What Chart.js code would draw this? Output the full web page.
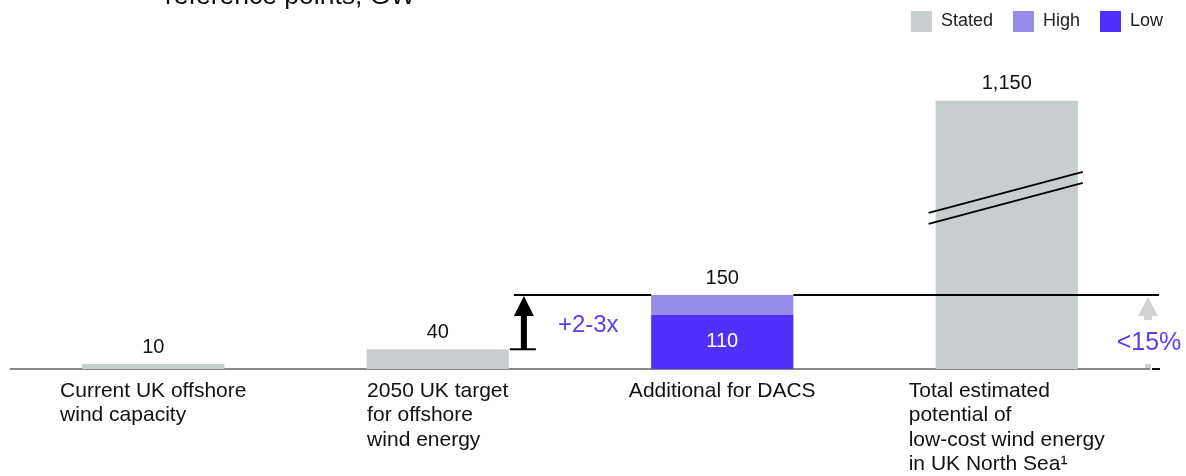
<!DOCTYPE html>
<html><head><meta charset="utf-8">
<script src="https://cdn.jsdelivr.net/npm/chart.js@4.4.0/dist/chart.umd.min.js"></script>
<style>html,body{margin:0;padding:0;background:#fff;overflow:hidden}#wrap{width:1186px;height:476px;position:relative}</style>
</head><body><div id="wrap"><canvas id="c" width="1186" height="476"></canvas></div>
<script>
// ---- data ----
const categories = [
  ["Current UK offshore", "wind capacity"],
  ["2050 UK target", "for offshore", "wind energy"],
  ["Additional for DACS"],
  ["Total estimated", "potential of", "low-cost wind energy", "in UK North Sea\u00B9"]
];
const statedValues = [10, 40, null, 1150];
const highValues = [null, null, 150, null];
const lowValues = [null, null, 110, null];
const valueLabels = ["10", "40", "150", "1,150"];
const lowLabels = [null, null, "110", null];
const seriesNames = ["Stated", "High", "Low"];
const axisBreakAt = 544;      // bars above this value are drawn cut with a break mark
const breakMarkAt = 347;      // value where the break mark is drawn
const multipleLabel = "+2-3x";
const shareLabel = "<15%";
const titleText = "reference points, GW";

// ---- styles ----
const FONT = '"Liberation Sans", Arial, Helvetica, sans-serif';
const C_STATED = '#C8CED0', C_HIGH = '#978BEA', C_LOW = '#5030FA', C_ACCENT = '#5A3CF6';

const annotations = {
  id: 'annotations',
  afterDatasetsDraw(chart) {
    const ctx = chart.ctx, xs = chart.scales.x, ys = chart.scales.y, ca = chart.chartArea;
    const metaStated = chart.getDatasetMeta(0);
    const barW = metaStated.data[0].width;
    ctx.save();
    // value labels above bars
    ctx.font = '20px ' + FONT; ctx.fillStyle = '#111'; ctx.textAlign = 'center'; ctx.textBaseline = 'middle';
    valueLabels.forEach((t, i) => {
      const v = statedValues[i] != null ? Math.min(statedValues[i], axisBreakAt) : highValues[i];
      ctx.fillText(t, xs.getPixelForValue(i), ys.getPixelForValue(v) - 17);
    });
    ctx.fillStyle = '#fff';
    lowLabels.forEach((t, i) => {
      if (!t) return;
      ctx.fillText(t, xs.getPixelForValue(i), (ys.getPixelForValue(lowValues[i]) + ys.getPixelForValue(0)) / 2);
    });
    // break mark on the tall bar
    statedValues.forEach((v, i) => {
      if (v == null || v <= axisBreakAt) return;
      const cx = xs.getPixelForValue(i), cy = ys.getPixelForValue(breakMarkAt);
      const l = cx - barW / 2 - 7, r = cx + barW / 2 + 5, dy = 20.5;
      ctx.strokeStyle = '#000'; ctx.lineWidth = 2;
      [-5.5, 5.5].forEach(off => {
        ctx.beginPath(); ctx.moveTo(l, cy + dy + off); ctx.lineTo(r, cy - dy + off); ctx.stroke();
      });
    });
    // reference line at the DACS total, with the "+2-3x" arrow
    const iT = 1, iD = 2;
    const yTop = ys.getPixelForValue(highValues[iD]);
    const yBot = ys.getPixelForValue(statedValues[iT]);
    const ax = xs.getPixelForValue(iT) + barW / 2 + 15;
    const dL = xs.getPixelForValue(iD) - barW / 2, dR = xs.getPixelForValue(iD) + barW / 2;
    ctx.strokeStyle = '#000'; ctx.lineWidth = 2;
    ctx.beginPath(); ctx.moveTo(ax - 10, yTop); ctx.lineTo(dL, yTop); ctx.stroke();
    ctx.beginPath(); ctx.moveTo(dR, yTop); ctx.lineTo(ca.right + 10, yTop); ctx.stroke();
    ctx.beginPath(); ctx.moveTo(ax - 14, yBot); ctx.lineTo(ax + 12, yBot); ctx.stroke();
    ctx.fillStyle = '#000';
    ctx.fillRect(ax - 3, yTop + 18, 6, yBot - yTop - 18);
    ctx.beginPath(); ctx.moveTo(ax, yTop + 1); ctx.lineTo(ax + 10, yTop + 21); ctx.lineTo(ax - 10, yTop + 21); ctx.closePath(); ctx.fill();
    ctx.font = '24px ' + FONT; ctx.fillStyle = C_ACCENT; ctx.textAlign = 'left';
    ctx.fillText(multipleLabel, ax + 34, (yTop + yBot) / 2 + 3);
    // share arrow on the right
    const gx = ca.right - 1;
    ctx.fillStyle = '#D2D2D2';
    ctx.beginPath(); ctx.moveTo(gx, yTop + 2); ctx.lineTo(gx + 10, yTop + 21); ctx.lineTo(gx - 10, yTop + 21); ctx.closePath(); ctx.fill();
    ctx.fillRect(gx - 4, yTop + 20, 8, 5);
    ctx.fillRect(gx - 3, ca.bottom - 5, 6, 4);
    ctx.fillStyle = '#111'; ctx.fillRect(gx + 4, ca.bottom - 1, 8, 2);
    ctx.font = '25px ' + FONT; ctx.fillStyle = C_ACCENT; ctx.textAlign = 'center';
    ctx.fillText(shareLabel, gx + 1, (yTop + 21 + ca.bottom) / 2 + 1);
    // category labels
    ctx.font = '21px ' + FONT; ctx.fillStyle = '#111'; ctx.textAlign = 'left';
    categories.forEach((lines, i) => {
      const cx = xs.getPixelForValue(i);
      const w = Math.max(...lines.map(s => ctx.measureText(s).width));
      lines.forEach((s, j) => ctx.fillText(s, cx - w / 2, ca.bottom + 22 + j * 24.5));
    });
    // clipped heading
    ctx.font = '26.5px ' + FONT; ctx.textBaseline = 'alphabetic';
    ctx.fillText(titleText, 165, 4);
    ctx.restore();
  }
};

new Chart(document.getElementById('c'), {
  type: 'bar',
  data: {
    labels: categories,
    datasets: [
      { label: seriesNames[0], data: statedValues.map(v => v == null ? null : Math.min(v, axisBreakAt)), backgroundColor: C_STATED },
      { label: seriesNames[2], data: lowValues, backgroundColor: C_LOW },
      { label: seriesNames[1], data: highValues.map((v, i) => v == null ? null : v - lowValues[i]), backgroundColor: C_HIGH }
    ]
  },
  options: {
    responsive: false,
    devicePixelRatio: 1,
    animation: false,
    layout: { padding: { left: 11, right: 3, top: -9, bottom: 107 } },
    datasets: { bar: { barPercentage: 1, categoryPercentage: 0.5, borderWidth: 0 } },
    scales: {
      x: { stacked: true, grid: { display: false, drawTicks: false, tickLength: 0 }, ticks: { display: false },
           border: { display: true, color: '#888', width: 2 }, afterFit(s) { s.height = 0; } },
      y: { stacked: true, position: 'right', min: 0, max: 663, grid: { display: false, drawTicks: false },
           ticks: { display: false }, border: { display: false }, afterFit(s) { s.width = 34; } }
    },
    plugins: {
      tooltip: { enabled: false },
      legend: {
        position: 'top', align: 'end',
        labels: { boxWidth: 21, boxHeight: 21, padding: 20, color: '#222', font: { family: FONT, size: 18 },
                  sort: (a, b) => seriesNames.indexOf(a.text) - seriesNames.indexOf(b.text) }
      }
    }
  },
  plugins: [annotations]
});
</script></body></html>
